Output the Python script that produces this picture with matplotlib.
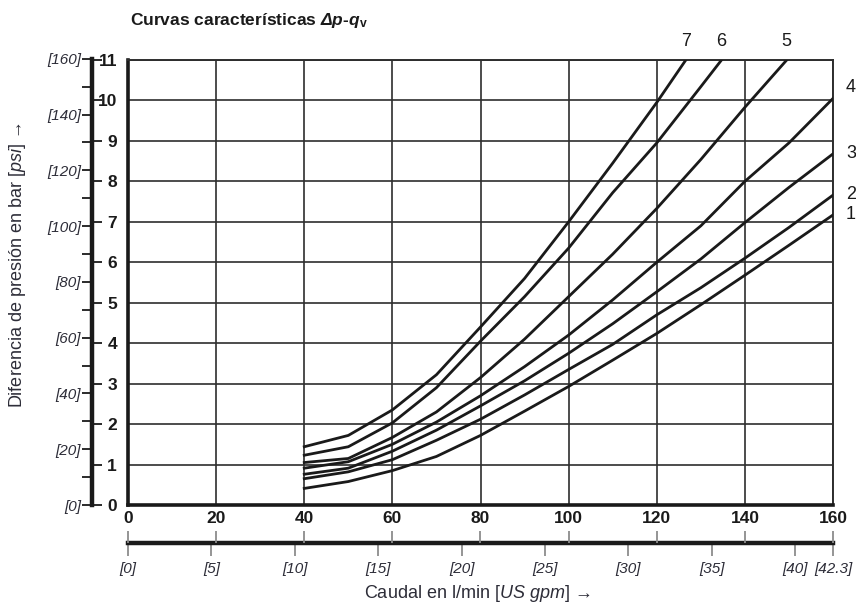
import matplotlib.pyplot as plt
import numpy as np

# Fonts: Liberation Sans for everything, mathtext mapped to the same family
plt.rcParams['font.family'] = ['Liberation Sans', 'DejaVu Sans']
plt.rcParams['mathtext.fontset'] = 'custom'
plt.rcParams['mathtext.rm'] = 'Liberation Sans'
plt.rcParams['mathtext.it'] = 'Liberation Sans:italic'
plt.rcParams['mathtext.bf'] = 'Liberation Sans:bold'
plt.rcParams['mathtext.bfit'] = 'Liberation Sans:italic:bold'

# Data (flow in l/min, pressure drop in bar)
q_full = [40, 50, 60, 70, 80, 90, 100, 110, 120, 130, 140, 150, 160]
curve_1 = [0.41, 0.58, 0.85, 1.20, 1.72, 2.32, 2.93, 3.58, 4.24, 4.95, 5.68, 6.42, 7.17]
curve_2 = [0.65, 0.82, 1.12, 1.60, 2.12, 2.72, 3.35, 3.97, 4.70, 5.37, 6.10, 6.86, 7.66]
curve_3 = [0.76, 0.91, 1.33, 1.85, 2.45, 3.07, 3.75, 4.48, 5.27, 6.08, 6.98, 7.85, 8.68]
curve_4 = [0.91, 1.07, 1.50, 2.05, 2.70, 3.42, 4.20, 5.07, 6.00, 6.90, 8.00, 8.95, 10.05]

q_5 = [40, 50, 60, 70, 80, 90, 100, 110, 120, 130, 140, 149.5]
curve_5 = [1.05, 1.15, 1.67, 2.30, 3.15, 4.10, 5.15, 6.20, 7.33, 8.54, 9.83, 11.0]
q_6 = [40, 50, 60, 70, 80, 90, 100, 110, 120, 130, 134.7]
curve_6 = [1.23, 1.44, 2.03, 2.90, 4.05, 5.15, 6.35, 7.72, 8.95, 10.34, 11.0]
q_7 = [40, 50, 60, 70, 80, 90, 100, 110, 120, 126.6]
curve_7 = [1.44, 1.72, 2.35, 3.22, 4.40, 5.60, 7.00, 8.45, 9.95, 11.0]

curve_names = ['1', '2', '3', '4', '5', '6', '7']

flow_ticks = [0, 20, 40, 60, 80, 100, 120, 140, 160]
bar_ticks = list(range(0, 12))
psi_major = [0, 20, 40, 60, 80, 100, 120, 140, 160]
psi_minor = [10, 30, 50, 70, 90, 110, 130, 150]
gpm_ticks = [0, 5, 10, 15, 20, 25, 30, 35, 40, 42.27]

PSI_PER_BAR = 14.5038
LPM_PER_GPM = 3.785411784

# Figure geometry in pixels
W, H = 856, 607
fig = plt.figure(figsize=(W / 100, H / 100), dpi=100)


def fx(px):
    return px / W


def fy(py):
    return 1 - py / H


x0, x1 = 128, 833
y0, y1 = 505, 60
bar_px = (y0 - y1) / 11.0

ink = '#1a1a1a'
grid_col = '#2e2e2e'
soft = '#2d2d38'

# Main chart
ax = fig.add_axes([fx(x0), fy(y0), fx(x1) - fx(x0), fy(y1) - fy(y0)])
ax.set_xlim(0, 160)
ax.set_ylim(0, 11)
ax.set_xticks(flow_ticks)
ax.set_xticklabels([str(v) for v in flow_ticks], fontweight='bold', fontsize=12.5)
ax.set_yticks(bar_ticks)
ax.set_yticklabels([str(v) for v in bar_ticks], fontweight='bold', fontsize=12.5)
ax.tick_params(axis='x', length=0, pad=4, colors=ink)
ax.tick_params(axis='y', length=0, pad=8, colors=ink)
ax.grid(True, color=grid_col, lw=1.2)
ax.set_axisbelow(True)
for side in ['left', 'bottom']:
    ax.spines[side].set_linewidth(2.6)
    ax.spines[side].set_color(ink)
for side in ['top', 'right']:
    ax.spines[side].set_linewidth(1.4)
    ax.spines[side].set_color(grid_col)

series = [
    (q_full, curve_1), (q_full, curve_2), (q_full, curve_3), (q_full, curve_4),
    (q_5, curve_5), (q_6, curve_6), (q_7, curve_7),
]
for xs, ys in series:
    ax.plot(xs, ys, color=ink, lw=2.0, solid_joinstyle='round', zorder=3)

# Curve numbers: 5, 6, 7 above the top end, 1-4 right of the frame
for name, (xs, ys) in zip(curve_names, series):
    if ys[-1] >= 11:
        ax.text(xs[-1], 11.45, name, ha='center', va='center', fontsize=13,
                color=ink, clip_on=False)
    else:
        ax.text(164.1, ys[-1] + 0.02 + (0.25 if name == '4' else 0), name,
                ha='center', va='center', fontsize=13, color=ink, clip_on=False)

# Left scale: psi ticks on the left, bar ticks on the right of a thick line
psi_top = 160 / PSI_PER_BAR
ax_bar = fig.add_axes([fx(92), fy(y0), 1e-5, fy(y0 - psi_top * bar_px) - fy(y0)])
ax_bar.set_ylim(0, psi_top)
ax_bar.set_xticks([])
for side in ['top', 'right', 'bottom']:
    ax_bar.spines[side].set_visible(False)
ax_bar.spines['left'].set_linewidth(3.2)
ax_bar.spines['left'].set_color(ink)
ax_bar.set_yticks([p / PSI_PER_BAR for p in psi_major])
ax_bar.set_yticklabels([f'[{p}]' for p in psi_major], fontstyle='italic',
                       fontsize=11, color=soft)
ax_bar.set_yticks([p / PSI_PER_BAR for p in psi_minor], minor=True)
ax_bar.tick_params(axis='y', which='both', direction='out', length=7,
                   width=1.3, color=ink, pad=1)

ax_bar_r = ax_bar.twinx()
ax_bar_r.set_ylim(0, psi_top)
ax_bar_r.set_yticks(bar_ticks)
ax_bar_r.set_yticklabels([])
ax_bar_r.tick_params(axis='y', direction='out', length=7, width=1.3, color=ink)
for side in ax_bar_r.spines:
    ax_bar_r.spines[side].set_visible(False)

# Bottom scale: l/min ticks above, US gpm ticks below a thick line
ax_gpm = fig.add_axes([fx(x0), fy(543), fx(x1) - fx(x0), 1e-5])
ax_gpm.set_xlim(0, 160)
ax_gpm.set_yticks([])
for side in ['top', 'right', 'left']:
    ax_gpm.spines[side].set_visible(False)
ax_gpm.spines['bottom'].set_linewidth(3.2)
ax_gpm.spines['bottom'].set_color(ink)
ax_gpm.set_xticks([min(g * LPM_PER_GPM, 160) for g in gpm_ticks])
ax_gpm.set_xticklabels([f'[{round(g, 1):g}]' for g in gpm_ticks],
                       fontstyle='italic', fontsize=11, color=soft)
ax_gpm.tick_params(axis='x', direction='out', length=9, width=1.3,
                   color='#8c8c8c', pad=5)

ax_lpm = ax_gpm.twiny()
ax_lpm.set_xlim(0, 160)
ax_lpm.set_xticks(flow_ticks)
ax_lpm.set_xticklabels([])
ax_lpm.tick_params(axis='x', direction='out', length=9, width=1.3, color='#8c8c8c')
for side in ax_lpm.spines:
    ax_lpm.spines[side].set_visible(False)

# Texts
fig.text(fx(130), fy(20),
         r"Curvas características $\mathbfit{\Delta p}$-$\mathbfit{q}_{\mathbf{v}}$",
         fontweight='bold', fontsize=12.5, ha='left', va='center', color=ink)
fig.text(fx(18), fy(265), r"Diferencia de presión en bar $\mathit{[psi]}$ →",
         rotation=90, ha='center', va='center', fontsize=13, color=soft)
fig.text(fx(477), fy(593), r"Caudal en l/min $\mathit{[US\ gpm]}$ →",
         ha='center', va='center', fontsize=13, color=soft)

fig.savefig('out.png', dpi=100)
